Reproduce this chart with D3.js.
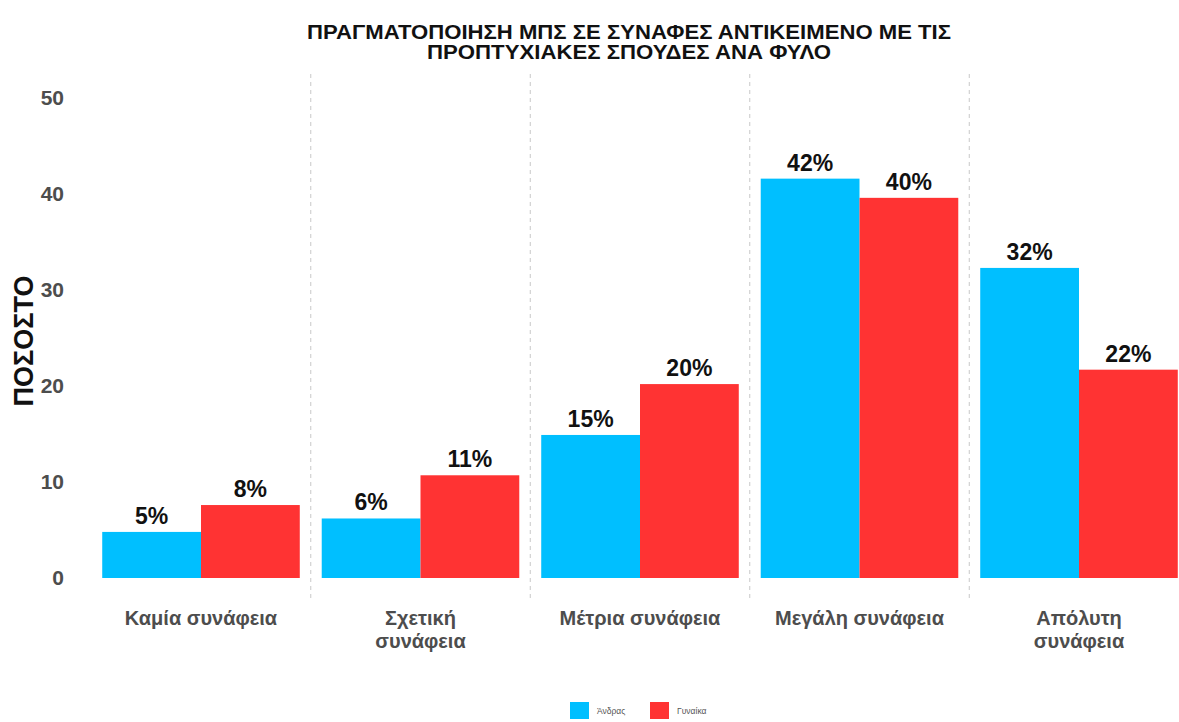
<!DOCTYPE html>
<html>
<head>
<meta charset="utf-8">
<script src="https://cdn.jsdelivr.net/npm/d3@7"></script>
<style>
  html, body { margin: 0; padding: 0; background: #fff; overflow: hidden; }
  svg { display: block; font-family: "Liberation Sans", Arial, sans-serif; }
</style>
</head>
<body>
<svg id="chart" width="1179" height="722"></svg>
<script>
const categories = ["Καμία συνάφεια", "Σχετική\nσυνάφεια", "Μέτρια συνάφεια", "Μεγάλη συνάφεια", "Απόλυτη\nσυνάφεια"];
const seriesNames = ["Άνδρας", "Γυναίκα"];
const menValues = [4.8, 6.2, 14.9, 41.6, 32.3];
const womenValues = [7.6, 10.7, 20.2, 39.6, 21.7];
const yTicks = [0, 10, 20, 30, 40, 50];
const colors = ["#00BFFF", "#FF3333"];
const titleLines = ["ΠΡΑΓΜΑΤΟΠΟΙΗΣΗ ΜΠΣ ΣΕ ΣΥΝΑΦΕΣ ΑΝΤΙΚΕΙΜΕΝΟ ΜΕ ΤΙΣ", "ΠΡΟΠΤΥΧΙΑΚΕΣ ΣΠΟΥΔΕΣ ΑΝΑ ΦΥΛΟ"];
const yTitle = "ΠΟΣΟΣΤΟ";

const svg = d3.select("#chart");

const x = d3.scaleBand().domain(categories).range([91.25, 1188.75]).padding(0);
const y = d3.scaleLinear().domain([0, 50]).range([578, 98]);
const groupW = x.bandwidth() * 0.9;
const xs = d3.scaleBand().domain(seriesNames).range([0, groupW]).padding(0);

const data = categories.map((c, i) => ({cat: c, vals: [menValues[i], womenValues[i]]}));

// dashed separators between categories
const panelTop = y(52.5), panelBottom = y(-2.5);
svg.append("g").selectAll("line")
  .data(categories.slice(1))
  .join("line")
  .attr("x1", d => x(d)).attr("x2", d => x(d))
  .attr("y1", panelTop).attr("y2", panelBottom)
  .attr("stroke", "#c8c8c8").attr("stroke-width", 1)
  .attr("stroke-dasharray", "4,4");

// bars
const groups = svg.append("g").selectAll("g")
  .data(data).join("g")
  .attr("transform", d => `translate(${x(d.cat) + (x.bandwidth() - groupW) / 2},0)`);

groups.selectAll("rect")
  .data(d => d.vals.map((v, j) => ({s: seriesNames[j], v, j})))
  .join("rect")
  .attr("x", d => xs(d.s))
  .attr("width", xs.bandwidth())
  .attr("y", d => y(d.v))
  .attr("height", d => y(0) - y(d.v))
  .attr("fill", d => colors[d.j]);

groups.selectAll("text")
  .data(d => d.vals.map((v, j) => ({s: seriesNames[j], v, j})))
  .join("text")
  .attr("x", d => xs(d.s) + xs.bandwidth() / 2)
  .attr("y", d => y(d.v) - 8)
  .attr("text-anchor", "middle")
  .attr("font-size", 23)
  .attr("font-weight", "bold")
  .attr("fill", "#111")
  .text(d => Math.round(d.v) + "%");

// y axis
const yAxis = d3.axisLeft(y).tickValues(yTicks).tickSize(0).tickPadding(0);
const gy = svg.append("g").attr("transform", "translate(64,0)").call(yAxis);
gy.select(".domain").remove();
gy.selectAll("text")
  .attr("font-family", "Liberation Sans, Arial, sans-serif")
  .attr("font-size", 21).attr("font-weight", "bold").attr("fill", "#4d4d4d");

// x axis
const xAxis = d3.axisBottom(x).tickSize(0).tickPadding(0).tickFormat(() => "");
const gx = svg.append("g").attr("transform", "translate(0,603)").call(xAxis);
gx.select(".domain").remove();
gx.selectAll(".tick text").each(function(d) {
  const t = d3.select(this);
  t.text(null)
    .attr("font-family", "Liberation Sans, Arial, sans-serif")
    .attr("font-size", 20).attr("font-weight", "bold").attr("fill", "#4d4d4d")
    .attr("y", 0).attr("dy", null);
  d.split("\n").forEach((line, k) => {
    t.append("tspan").attr("x", 0).attr("y", 22 + k * 23).text(line);
  });
});

// y title
svg.append("text")
  .attr("transform", "translate(33,341) rotate(-90)")
  .attr("text-anchor", "middle")
  .attr("font-size", 27).attr("font-weight", "bold").attr("fill", "#111")
  .text(yTitle);

// title
const titleWidths = [644, 404];
svg.append("g").selectAll("text")
  .data(titleLines).join("text")
  .attr("x", 629)
  .attr("y", (d, i) => 39 + i * 20)
  .attr("text-anchor", "middle")
  .attr("font-size", 20).attr("font-weight", "bold").attr("fill", "#111")
  .attr("textLength", (d, i) => titleWidths[i])
  .attr("lengthAdjust", "spacingAndGlyphs")
  .text(d => d);

// legend
const legend = svg.append("g").attr("transform", "translate(570,702)");
const li = legend.selectAll("g").data(seriesNames).join("g")
  .attr("transform", (d, i) => `translate(${i * 80},0)`);
li.append("rect").attr("width", 19).attr("height", 17).attr("fill", (d, i) => colors[i]);
li.append("text").attr("x", 27).attr("y", 12)
  .attr("font-size", 8.5).attr("fill", "#555").text(d => d);
</script>
</body>
</html>
